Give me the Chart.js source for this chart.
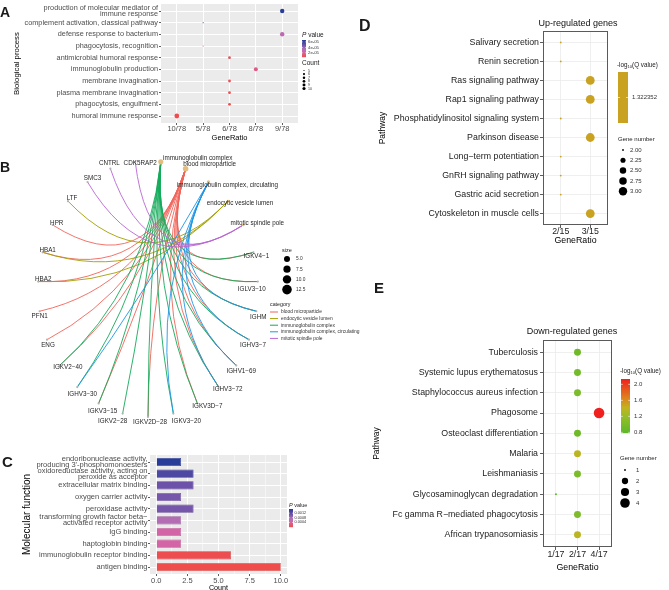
<!DOCTYPE html>
<html>
<head>
<meta charset="utf-8">
<script src="https://cdn.jsdelivr.net/npm/chart.js@4.4.1/dist/chart.umd.min.js"></script>
<style>
  body { margin: 0; width: 669px; height: 590px; background: #fff; position: relative; overflow: hidden;
         font-family: "Liberation Sans", Arial, sans-serif; }
  .panel { position: absolute; }
  .tag { position: absolute; font-weight: bold; color: #1a1a1a; line-height: 1; }
</style>
</head>
<body>
<canvas id="chartA" class="panel" width="330" height="150" style="left:0;top:0"></canvas>
<canvas id="chartC" class="panel" width="330" height="145" style="left:0;top:450px"></canvas>
<canvas id="chartD" class="panel" width="339" height="250" style="left:330px;top:0"></canvas>
<canvas id="chartE" class="panel" width="339" height="285" style="left:330px;top:300px"></canvas>
<canvas id="chartB" class="panel" width="390" height="290" style="left:0;top:150px"></canvas>

<div class="tag" style="left:0;top:5px;font-size:14px">A</div>
<div class="tag" style="left:0;top:160px;font-size:14px">B</div>
<div class="tag" style="left:2px;top:454px;font-size:15px">C</div>
<div class="tag" style="left:359px;top:18px;font-size:16px">D</div>
<div class="tag" style="left:374px;top:280px;font-size:15px">E</div>

<script>
// ---------- A: biological process ----------
const a_terms = [
  "production of molecular mediator of\nimmune response",
  "complement activation, classical pathway",
  "defense response to bacterium",
  "phagocytosis, recognition",
  "antimicrobial humoral response",
  "immunoglobulin production",
  "membrane invagination",
  "plasma membrane invagination",
  "phagocytosis, engulfment",
  "humoral immune response"
];
const a_ratioLevels = ["10/78", "5/78", "6/78", "8/78", "9/78"];
const a_ratio = ["9/78", "5/78", "9/78", "5/78", "6/78", "8/78", "6/78", "6/78", "6/78", "10/78"];
const a_count = [9, 5, 9, 5, 6, 8, 6, 6, 6, 10];
const a_pvalue = [6.7e-05, 4.6e-05, 3.0e-05, 1.8e-05, 8e-06, 1.6e-05, 7e-06, 7e-06, 6e-06, 5e-06];
const a_pTicks = [6e-05, 4e-05, 2e-05];
const a_pTickLabels = ["6e-05", "4e-05", "2e-05"];
const a_countLegend = [5, 6, 7, 8, 9, 10];

// ---------- B: cellular component network ----------
const b_categories = ["immunoglobulin complex", "blood microparticle", "immunoglobulin complex, circulating",
  "endocytic vesicle lumen", "mitotic spindle pole"];
const b_genes = ["IGKV4−1", "IGLV3−10", "IGHM", "IGHV3−7", "IGHV1−69", "IGHV3−72", "IGKV3D−7", "IGKV3−20",
  "IGKV2D−28", "IGKV2−28", "IGKV3−15", "IGHV3−30", "IGKV2−40", "ENG", "PFN1", "HBA2", "HBA1", "HPR", "LTF",
  "SMC3", "CNTRL", "CDK5RAP2"];
const b_members = [
  ["IGKV4−1", "IGLV3−10", "IGHM", "IGHV3−7", "IGHV1−69", "IGHV3−72", "IGKV3D−7", "IGKV3−20", "IGKV2D−28",
   "IGKV2−28", "IGKV3−15", "IGHV3−30", "IGKV2−40"],
  ["IGKV4−1", "IGLV3−10", "IGHM", "IGHV3−7", "IGHV1−69", "IGHV3−72", "IGKV3D−7", "IGKV2D−28", "IGKV3−15",
   "IGKV2−40", "ENG", "PFN1", "HBA2", "HBA1", "HPR"],
  ["IGHM", "IGHV3−7", "IGHV1−69", "IGHV3−72", "IGKV3−20", "IGHV3−30"],
  ["HBA2", "HBA1", "LTF"],
  ["SMC3", "CNTRL", "CDK5RAP2"]
];
const b_sizeLegend = ["5.0", "7.5", "10.0", "12.5"];

// ---------- C: molecular function ----------
const c_terms = [
  "endoribonuclease activity,\nproducing 3'-phosphomonoesters",
  "oxidoreductase activity, acting on\nperoxide as acceptor",
  "extracellular matrix binding",
  "oxygen carrier activity",
  "peroxidase activity",
  "transforming growth factor beta−\nactivated receptor activity",
  "IgG binding",
  "haptoglobin binding",
  "immunoglobulin receptor binding",
  "antigen binding"
];
const c_count = [2, 3, 3, 2, 3, 2, 2, 2, 6, 10];
const c_pvalue = [0.00155, 0.0013, 0.0011, 0.00105, 0.00105, 0.0007, 0.00045, 0.00045, 0.00003, 0.00001];
const c_xTicks = [0, 2.5, 5, 7.5, 10];
const c_xTickLabels = ["0.0", "2.5", "5.0", "7.5", "10.0"];
const c_pTicks = [0.0012, 0.0008, 0.0004];
const c_pTickLabels = ["0.0012", "0.0008", "0.0004"];

// ---------- D: up-regulated KEGG ----------
const d_pathways = ["Salivary secretion", "Renin secretion", "Ras signaling pathway", "Rap1 signaling pathway",
  "Phosphatidylinositol signaling system", "Parkinson disease", "Long−term potentiation",
  "GnRH signaling pathway", "Gastric acid secretion", "Cytoskeleton in muscle cells"];
const d_ratioLevels = ["2/15", "3/15"];
const d_ratio = ["2/15", "2/15", "3/15", "3/15", "2/15", "3/15", "2/15", "2/15", "2/15", "3/15"];
const d_geneNumber = [2, 2, 3, 3, 2, 3, 2, 2, 2, 3];
const d_qLog = [1.322352, 1.322352, 1.322352, 1.322352, 1.322352, 1.322352, 1.322352, 1.322352, 1.322352, 1.322352];
const d_sizeLegend = [2.00, 2.25, 2.50, 2.75, 3.00];

// ---------- E: down-regulated KEGG ----------
const e_pathways = ["Tuberculosis", "Systemic lupus erythematosus", "Staphylococcus aureus infection", "Phagosome",
  "Osteoclast differentiation", "Malaria", "Leishmaniasis", "Glycosaminoglycan degradation",
  "Fc gamma R−mediated phagocytosis", "African trypanosomiasis"];
const e_ratioLevels = ["1/17", "2/17", "4/17"];
const e_ratio = ["2/17", "2/17", "2/17", "4/17", "2/17", "2/17", "2/17", "1/17", "2/17", "2/17"];
const e_geneNumber = [2, 2, 2, 4, 2, 2, 2, 1, 2, 2];
const e_qLog = [0.92, 0.95, 1.0, 2.13, 0.92, 1.38, 1.0, 0.78, 1.02, 1.38];
const e_qTicks = [2.0, 1.6, 1.2, 0.8];
const e_qTickLabels = ["2.0", "1.6", "1.2", "0.8"];
const e_sizeLegend = [1, 2, 3, 4];

// ---------- helpers ----------
const FONT = '"Liberation Sans", Arial, sans-serif';
Chart.defaults.font.family = FONT;

const RED_BLUE = [[0, [239, 76, 76]], [0.3, [210, 102, 172]], [0.5, [168, 112, 182]], [0.72, [104, 80, 168]], [1, [40, 60, 154]]];
const GREEN_RED = [[0, [92, 184, 42]], [0.3, [150, 190, 40]], [0.46, [192, 180, 32]], [0.65, [222, 130, 30]], [1, [240, 32, 30]]];

function ramp(stops, t) {
  t = Math.max(0, Math.min(1, t));
  for (let i = 1; i < stops.length; i++) {
    if (t <= stops[i][0]) {
      const [t0, c0] = stops[i - 1], [t1, c1] = stops[i];
      const f = (t - t0) / (t1 - t0);
      return c0.map((v, j) => Math.round(v + (c1[j] - v) * f));
    }
  }
  return stops[stops.length - 1][1];
}
const rgb = (c, k = 1) => `rgb(${c.map(v => Math.round(v * k)).join(",")})`;
const radius = (v, vmin, vmax, rmin, rmax) => rmin + (rmax - rmin) * Math.sqrt((v - vmin) / (vmax - vmin));
const range = arr => [Math.min(...arr), Math.max(...arr)];

// fix axis size and drop the edge padding chart.js adds for the outer labels
function fixSize(s, vertical, size) {
  if (vertical) { s.width = size; s.paddingTop = 0; s.paddingBottom = 0; }
  else { s.height = size; s.paddingLeft = 0; s.paddingRight = 0; }
}

function discreteAxis(levels, o) {
  const vertical = o.vertical;
  return {
    type: "linear",
    reverse: !!vertical,
    offset: false,
    min: -0.6,
    max: levels.length - 0.4,
    afterBuildTicks: s => { s.ticks = levels.map((_, i) => ({ value: i })); },
    afterFit: s => fixSize(s, vertical, o.size),
    ticks: {
      autoSkip: false, maxRotation: 0, padding: o.pad,
      callback: v => String(levels[v]).split("\n"),
      color: o.tickColor, font: { size: o.fontSize, lineHeight: o.lineHeight || 1 }
    },
    grid: { offset: false, color: o.gridColor, lineWidth: o.gridWidth, tickColor: "#333", tickLength: o.tickLength, tickWidth: 0.8 },
    border: { display: false },
    title: { display: true, text: o.title, color: "#000", font: { size: o.titleSize, lineHeight: 1.2 }, padding: o.titlePad }
  };
}

const panelBg = color => ({
  id: "panelBg",
  beforeDraw(chart) {
    const { ctx, chartArea: a } = chart;
    ctx.save();
    ctx.fillStyle = color;
    ctx.fillRect(a.left, a.top, a.width, a.height);
    ctx.restore();
  }
});

function text(ctx, s, x, y, size, opts = {}) {
  ctx.font = `${opts.style || ""} ${size}px ${FONT}`;
  ctx.fillStyle = opts.color || "#1a1a1a";
  ctx.textAlign = opts.align || "left";
  ctx.textBaseline = "middle";
  ctx.fillText(s, x, y);
  return ctx.measureText(s).width;
}

function colourBar(ctx, x, y, w, h, vmin, vmax, stops, ticks, labels, labelX, fs) {
  for (let i = 0; i < h; i++) {
    const v = vmax - (i + 0.5) / h * (vmax - vmin);
    ctx.fillStyle = rgb(ramp(stops, (v - vmin) / (vmax - vmin)));
    ctx.fillRect(x, y + i, w, 1.2);
  }
  ticks.forEach((v, i) => {
    const ty = y + (vmax - v) / (vmax - vmin) * h;
    ctx.fillStyle = "#fff";
    ctx.fillRect(x, ty - 0.3, w * 0.2, 0.6);
    ctx.fillRect(x + w * 0.8, ty - 0.3, w * 0.2, 0.6);
    text(ctx, labels[i], labelX, ty, fs, { color: "#333" });
  });
}

function log10Title(ctx, x, y, size) {
  let w = text(ctx, "-log", x, y, size);
  w += text(ctx, "10", x + w, y + size * 0.3, size * 0.65);
  text(ctx, "(Q value)", x + w, y, size);
}

const noInteraction = { responsive: false, animation: false, events: [] };

// ---------- chart A ----------
const [aPmin, aPmax] = range(a_pvalue);
new Chart(document.getElementById("chartA"), {
  type: "scatter",
  data: {
    datasets: [{
      data: a_terms.map((t, i) => ({ x: a_ratioLevels.indexOf(a_ratio[i]), y: i })),
      pointBackgroundColor: a_pvalue.map(p => rgb(ramp(RED_BLUE, (p - aPmin) / (aPmax - aPmin)))),
      pointBorderWidth: 0,
      pointRadius: a_count.map(c => radius(c, 5, 10, 0.6, 2.4)),
      clip: false
    }]
  },
  options: {
    ...noInteraction,
    layout: { padding: { left: 0, right: 32, top: 0, bottom: 0 } },
    plugins: { legend: { display: false }, tooltip: { enabled: false } },
    scales: {
      x: discreteAxis(a_ratioLevels, { size: 27, pad: 0, tickColor: "#4d4d4d", fontSize: 7.5, gridColor: "#fff",
        gridWidth: 1, tickLength: 2, title: "GeneRatio", titleSize: 7.5, titlePad: { top: 0, bottom: 8 } }),
      y: discreteAxis(a_terms, { vertical: true, size: 161, pad: 1, tickColor: "#4d4d4d", fontSize: 7.3,
        lineHeight: 0.75, gridColor: "#fff", gridWidth: 1, tickLength: 2, title: "Biological process",
        titleSize: 7.8, titlePad: { top: 12, bottom: 0 } })
    }
  },
  plugins: [panelBg("#ebebeb"), {
    id: "legendA",
    afterDraw(chart) {
      const ctx = chart.ctx;
      ctx.save();
      let w = text(ctx, "P", 302, 35, 6.5, { style: "italic" });
      text(ctx, " value", 302 + w, 35, 6.5);
      colourBar(ctx, 302, 40, 4, 17, aPmin, aPmax, RED_BLUE, a_pTicks, a_pTickLabels, 308, 4.3);
      text(ctx, "Count", 302, 63, 6.5);
      a_countLegend.forEach((c, i) => {
        const y = 70.5 + i * 3.6;
        ctx.fillStyle = "#000";
        ctx.beginPath(); ctx.arc(304, y, radius(c, 5, 10, 0.6, 1.6), 0, Math.PI * 2); ctx.fill();
        text(ctx, String(c), 308, y, 3.6, { color: "#333" });
      });
      ctx.restore();
    }
  }]
});

// ---------- chart B ----------
const b_nodes = b_categories.concat(b_genes);
const b_angle = k => (k + 0.5) * 2 * Math.PI / b_nodes.length;
const b_point = name => { const k = b_nodes.indexOf(name); return { x: Math.sin(b_angle(k)), y: Math.cos(b_angle(k)) }; };
const b_catColors = ["#14aa5a", "#f0645a", "#1e96e6", "#a3a000", "#b966d2"];
// label offsets (px) from each node, in node order
const b_labelNudge = [[37, -4], [24, -4], [19, 3], [12, 2], [14, -2], [3, 4], [-6, 8], [2, 6], [4, 6], [5, 6],
  [9, 2], [10, 3], [13, 8], [2, 5], [-10, 8], [4, 8], [5, 7], [8, 2], [1, 6], [0, 5], [5, -2], [5, -2], [4, -2],
  [4, -3], [5, -4], [-1, -5], [5, 1]];
const b_edgeOrder = [1, 3, 0, 2, 4];

new Chart(document.getElementById("chartB"), {
  type: "scatter",
  data: {
    datasets: [{
      data: b_genes.map(b_point),
      pointBackgroundColor: "#b3b3b3", pointBorderWidth: 0, pointRadius: 1.1, clip: false
    }, {
      data: b_categories.map(b_point),
      pointBackgroundColor: "#e3bd7d", pointBorderWidth: 0,
      pointRadius: b_members.map(m => 1 + 0.12 * m.length), clip: false
    }]
  },
  options: {
    ...noInteraction,
    layout: { padding: { left: 38, right: 132, top: 11, bottom: 23 } },
    plugins: { legend: { display: false }, tooltip: { enabled: false } },
    scales: {
      x: { type: "linear", min: -1, max: 1, display: false },
      y: { type: "linear", min: -1, max: 1, display: false }
    }
  },
  plugins: [{
    id: "edges",
    beforeDatasetsDraw(chart) {
      const { ctx, scales: { x, y } } = chart;
      const cx = x.getPixelForValue(0), cy = y.getPixelForValue(0);
      ctx.save();
      ctx.lineWidth = 0.9;
      b_edgeOrder.forEach(c => {
        const cp = b_point(b_categories[c]);
        const x2 = x.getPixelForValue(cp.x), y2 = y.getPixelForValue(cp.y);
        ctx.strokeStyle = b_catColors[c];
        b_members[c].forEach(g => {
          const gp = b_point(g);
          const x1 = x.getPixelForValue(gp.x), y1 = y.getPixelForValue(gp.y);
          // bend each arc toward the circle centre
          const mx = (x1 + x2) / 2, my = (y1 + y2) / 2;
          ctx.beginPath();
          ctx.moveTo(x1, y1);
          ctx.quadraticCurveTo(mx + (cx - mx) * 0.95, my + (cy - my) * 0.95, x2, y2);
          ctx.stroke();
        });
      });
      ctx.restore();
    },
    afterDatasetsDraw(chart) {
      const { ctx, scales: { x, y } } = chart;
      ctx.save();
      b_nodes.forEach((n, k) => {
        const p = b_point(n);
        text(ctx, n, x.getPixelForValue(p.x) + b_labelNudge[k][0], y.getPixelForValue(p.y) + b_labelNudge[k][1],
          6.3, { align: "center", color: "#262626" });
      });
      // legend
      text(ctx, "size", 282, 100, 5.5);
      b_sizeLegend.forEach((s, i) => {
        const yy = 109 + i * 10.2;
        ctx.fillStyle = "#000";
        ctx.beginPath(); ctx.arc(287, yy, 3 + i * 0.6, 0, Math.PI * 2); ctx.fill();
        text(ctx, s, 296, yy, 4.8, { color: "#333" });
      });
      text(ctx, "category", 270, 155, 5.3);
      b_categories.slice().sort().forEach((c, i) => {
        const yy = 162 + i * 6.6;
        ctx.strokeStyle = b_catColors[b_categories.indexOf(c)];
        ctx.lineWidth = 1;
        ctx.beginPath(); ctx.moveTo(270, yy); ctx.lineTo(278, yy); ctx.stroke();
        text(ctx, c, 281, yy, 4.9, { color: "#333" });
      });
      ctx.restore();
    }
  }]
});

// ---------- chart C ----------
const [cPmin, cPmax] = range(c_pvalue);
const cColour = p => ramp(RED_BLUE, (p - cPmin) / (cPmax - cPmin));
new Chart(document.getElementById("chartC"), {
  type: "bar",
  data: {
    datasets: [{
      data: c_count.map((v, i) => ({ x: v, y: i })),
      backgroundColor: c_pvalue.map(p => rgb(cColour(p))),
      borderColor: c_pvalue.map(p => rgb(cColour(p), 0.85)),
      borderWidth: 0.7,
      barPercentage: 0.7, categoryPercentage: 1
    }]
  },
  options: {
    ...noInteraction,
    indexAxis: "y",
    layout: { padding: { left: 0, right: 43, top: 5, bottom: 0 } },
    plugins: { legend: { display: false }, tooltip: { enabled: false } },
    scales: {
      x: {
        type: "linear", min: -0.5, max: 10.5,
        afterBuildTicks: s => {
          const t = [];
          c_xTicks.forEach((v, i) => { t.push({ value: v }); if (i < c_xTicks.length - 1) t.push({ value: (v + c_xTicks[i + 1]) / 2 }); });
          s.ticks = t;
        },
        afterFit: s => fixSize(s, false, 21),
        ticks: {
          autoSkip: false, maxRotation: 0, padding: 0, color: "#4d4d4d", font: { size: 7.5 },
          callback: v => { const i = c_xTicks.indexOf(v); return i < 0 ? "" : c_xTickLabels[i]; }
        },
        grid: {
          color: "#fff", tickLength: 2, tickWidth: 0.8,
          lineWidth: c => c_xTicks.includes(c.tick.value) ? 1 : 0.5,
          tickColor: c => c_xTicks.includes(c.tick.value) ? "#333" : "rgba(0,0,0,0)"
        },
        border: { display: false },
        title: { display: true, text: "Count", color: "#000", font: { size: 7.2, lineHeight: 1.2 }, padding: { top: 0, bottom: 3 } }
      },
      y: discreteAxis(c_terms, { vertical: true, size: 150, pad: 0.5, tickColor: "#4d4d4d", fontSize: 7.5,
        lineHeight: 0.8, gridColor: "#fff", gridWidth: 1, tickLength: 2, title: "Molecular function",
        titleSize: 10, titlePad: { top: 21, bottom: 0 } })
    }
  },
  plugins: [panelBg("#ebebeb"), {
    id: "legendC",
    afterDraw(chart) {
      const ctx = chart.ctx;
      ctx.save();
      let w = text(ctx, "P", 289, 55, 5.5, { style: "italic" });
      text(ctx, " value", 289 + w, 55, 5.5);
      colourBar(ctx, 289, 59, 4, 18, cPmin, cPmax, RED_BLUE, c_pTicks, c_pTickLabels, 294.5, 3.8);
      ctx.restore();
    }
  }]
});

// ---------- D / E frame ----------
const framePlugin = (title, tx, ty) => ({
  id: "frame",
  afterDraw(chart) {
    const { ctx, chartArea: a } = chart;
    ctx.save();
    ctx.strokeStyle = "#5a5a5a";
    ctx.lineWidth = 1;
    ctx.strokeRect(Math.round(a.left) + 0.5, Math.round(a.top) + 0.5, Math.round(a.width) - 1, Math.round(a.height) - 1);
    text(ctx, title, tx, ty, 9, { align: "center", color: "#111" });
    ctx.restore();
  }
});

// ---------- chart D ----------
const D_GOLD = [201, 162, 34];
new Chart(document.getElementById("chartD"), {
  type: "scatter",
  data: {
    datasets: [{
      data: d_pathways.map((p, i) => ({ x: d_ratioLevels.indexOf(d_ratio[i]), y: i })),
      pointBackgroundColor: rgb(D_GOLD), pointBorderWidth: 0,
      pointRadius: d_geneNumber.map(g => radius(g, 2, 3, 0.9, 4.4)), clip: false
    }]
  },
  options: {
    ...noInteraction,
    layout: { padding: { left: 0, right: 61, top: 31, bottom: 0 } },
    plugins: { legend: { display: false }, tooltip: { enabled: false } },
    scales: {
      x: discreteAxis(d_ratioLevels, { size: 25, pad: -1, tickColor: "#222", fontSize: 8.8, gridColor: "#ebebeb",
        gridWidth: 0.8, tickLength: 3, title: "GeneRatio", titleSize: 8.8, titlePad: { top: 0, bottom: 4.5 } }),
      y: discreteAxis(d_pathways, { vertical: true, size: 213, pad: 1, tickColor: "#222", fontSize: 8.8,
        gridColor: "#ebebeb", gridWidth: 0.8, tickLength: 3, title: "Pathway", titleSize: 8.5,
        titlePad: { top: 48, bottom: 0 } })
    }
  },
  plugins: [framePlugin("Up-regulated genes", 248, 24), {
    id: "legendD",
    afterDraw(chart) {
      const ctx = chart.ctx;
      ctx.save();
      log10Title(ctx, 287, 65, 6.3);
      ctx.fillStyle = rgb(D_GOLD);
      ctx.fillRect(288, 72, 10, 51);
      ctx.fillStyle = "#fff";
      ctx.fillRect(288, 97.2, 2, 0.6);
      ctx.fillRect(296, 97.2, 2, 0.6);
      text(ctx, d_qLog[0].toFixed(6), 302, 97.5, 6, { color: "#333" });
      text(ctx, "Gene number", 288, 139, 6);
      d_sizeLegend.forEach((g, i) => {
        const y = 150 + i * 10.3;
        ctx.fillStyle = "#000";
        ctx.beginPath(); ctx.arc(293, y, radius(g, 2, 3, 0.9, 4.2), 0, Math.PI * 2); ctx.fill();
        text(ctx, g.toFixed(2), 300, y, 6, { color: "#333" });
      });
      ctx.restore();
    }
  }]
});

// ---------- chart E ----------
const [eQmin, eQmax] = range(e_qLog);
new Chart(document.getElementById("chartE"), {
  type: "scatter",
  data: {
    datasets: [{
      data: e_pathways.map((p, i) => ({ x: e_ratioLevels.indexOf(e_ratio[i]), y: i })),
      pointBackgroundColor: e_qLog.map(q => rgb(ramp(GREEN_RED, (q - eQmin) / (eQmax - eQmin)))),
      pointBorderWidth: 0,
      pointRadius: e_geneNumber.map(g => radius(g, 1, 4, 1, 5.3)), clip: false
    }]
  },
  options: {
    ...noInteraction,
    layout: { padding: { left: 0, right: 57, top: 40, bottom: 0 } },
    plugins: { legend: { display: false }, tooltip: { enabled: false } },
    scales: {
      x: discreteAxis(e_ratioLevels, { size: 38, pad: 0, tickColor: "#222", fontSize: 8.8, gridColor: "#ebebeb",
        gridWidth: 0.8, tickLength: 3, title: "GeneRatio", titleSize: 8.8, titlePad: { top: 0, bottom: 12.5 } }),
      y: discreteAxis(e_pathways, { vertical: true, size: 213, pad: 2, tickColor: "#222", fontSize: 8.8,
        gridColor: "#ebebeb", gridWidth: 0.8, tickLength: 3, title: "Pathway", titleSize: 8.5,
        titlePad: { top: 42, bottom: 0 } })
    }
  },
  plugins: [framePlugin("Down-regulated genes", 242, 32), {
    id: "legendE",
    afterDraw(chart) {
      const ctx = chart.ctx;
      ctx.save();
      log10Title(ctx, 290, 71, 6.3);
      colourBar(ctx, 291, 79, 9, 54, eQmin, eQmax, GREEN_RED, e_qTicks, e_qTickLabels, 304, 6);
      text(ctx, "Gene number", 290, 158, 6);
      e_sizeLegend.forEach((g, i) => {
        const y = 170 + i * 11;
        ctx.fillStyle = "#000";
        ctx.beginPath(); ctx.arc(295, y, radius(g, 1, 4, 0.9, 4.8), 0, Math.PI * 2); ctx.fill();
        text(ctx, String(g), 306, y, 6, { color: "#333" });
      });
      ctx.restore();
    }
  }]
});
</script>
</body>
</html>
